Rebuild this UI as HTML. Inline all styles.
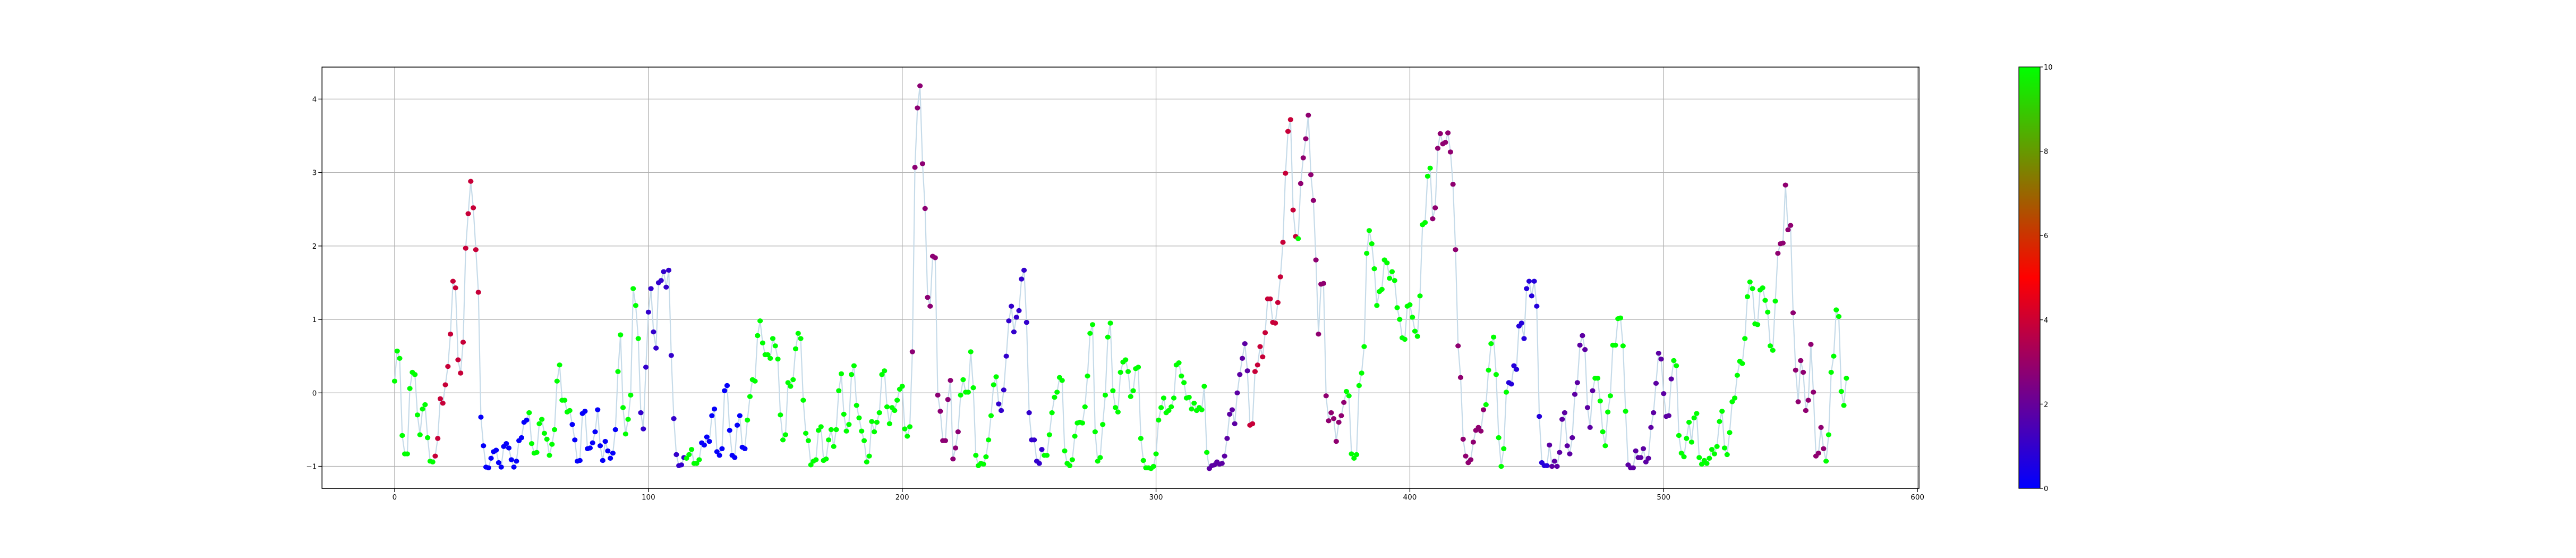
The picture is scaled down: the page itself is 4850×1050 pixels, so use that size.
<!DOCTYPE html>
<html><head><meta charset="utf-8">
<style>
html,body{margin:0;padding:0;background:#fff;}
svg{display:block;font-family:"DejaVu Sans","Liberation Sans",sans-serif;}
</style></head>
<body>
<svg id="chart" width="4850" height="1050" xmlns="http://www.w3.org/2000/svg">
<rect width="4850" height="1050" fill="#fff"/>
<g id="grid"></g>
<g id="series"></g>
<rect x="606.3" y="126.3" width="3006.7" height="792.7" fill="none" stroke="#000" stroke-width="1.6"/>
<g id="axes"></g>
<defs>
<linearGradient id="brg" x1="0" y1="1" x2="0" y2="0">
<stop offset="0" stop-color="#0000ff"/><stop offset="0.5" stop-color="#ff0000"/><stop offset="1" stop-color="#00ff00"/>
</linearGradient>
</defs>
<g id="cbar">
<rect x="3801" y="126" width="40" height="793" fill="url(#brg)" stroke="#000" stroke-width="1.2"/>
</g>
</svg>
<script>
const values = [0.16,0.57,0.47,-0.58,-0.83,-0.83,0.06,0.28,0.25,-0.30,-0.57,-0.22,-0.16,-0.61,-0.93,-0.94,-0.86,-0.62,-0.08,-0.14,
0.11,0.36,0.80,1.52,1.43,0.45,0.27,0.69,1.97,2.44,2.88,2.52,1.95,1.37,-0.33,-0.72,-1.01,-1.02,-0.89,-0.80,
-0.78,-0.95,-1.01,-0.73,-0.69,-0.75,-0.91,-1.01,-0.93,-0.65,-0.61,-0.40,-0.37,-0.27,-0.69,-0.82,-0.81,-0.42,-0.36,-0.55,
-0.63,-0.85,-0.70,-0.50,0.16,0.38,-0.10,-0.10,-0.26,-0.24,-0.43,-0.64,-0.93,-0.92,-0.28,-0.25,-0.76,-0.75,-0.68,-0.53,
-0.23,-0.72,-0.92,-0.66,-0.79,-0.89,-0.82,-0.50,0.29,0.79,-0.20,-0.56,-0.36,-0.03,1.42,1.19,0.74,-0.27,-0.49,0.35,
1.10,1.42,0.83,0.61,1.50,1.53,1.65,1.44,1.67,0.51,-0.35,-0.84,-0.99,-0.98,-0.88,-0.89,-0.84,-0.77,-0.96,-0.96,
-0.91,-0.68,-0.71,-0.60,-0.66,-0.31,-0.22,-0.80,-0.85,-0.76,0.03,0.10,-0.51,-0.85,-0.88,-0.44,-0.31,-0.74,-0.76,-0.37,
-0.05,0.18,0.16,0.78,0.98,0.68,0.52,0.52,0.47,0.74,0.64,0.46,-0.30,-0.64,-0.57,0.14,0.09,0.18,0.60,0.81,
0.74,-0.10,-0.55,-0.65,-0.98,-0.93,-0.91,-0.51,-0.46,-0.92,-0.90,-0.64,-0.50,-0.73,-0.50,0.03,0.26,-0.29,-0.52,-0.43,
0.25,0.37,-0.17,-0.34,-0.52,-0.65,-0.94,-0.86,-0.39,-0.53,-0.40,-0.27,0.25,0.30,-0.19,-0.42,-0.20,-0.24,-0.10,0.05,
0.09,-0.49,-0.59,-0.46,0.56,3.07,3.88,4.18,3.12,2.51,1.30,1.18,1.86,1.84,-0.03,-0.25,-0.65,-0.65,-0.09,0.17,
-0.90,-0.75,-0.53,-0.03,0.18,0.01,0.01,0.56,0.07,-0.85,-0.99,-0.96,-0.97,-0.87,-0.64,-0.31,0.11,0.22,-0.15,-0.24,
0.04,0.50,0.98,1.18,0.83,1.03,1.12,1.55,1.67,0.96,-0.27,-0.64,-0.64,-0.93,-0.96,-0.77,-0.85,-0.85,-0.57,-0.27,
-0.06,0.01,0.21,0.17,-0.79,-0.96,-0.99,-0.91,-0.59,-0.41,-0.40,-0.41,-0.19,0.23,0.81,0.93,-0.53,-0.93,-0.88,-0.43,
-0.03,0.76,0.95,0.03,-0.20,-0.26,0.28,0.42,0.45,0.29,-0.05,0.03,0.33,0.35,-0.62,-0.92,-1.02,-1.02,-1.03,-1.00,
-0.83,-0.37,-0.20,-0.07,-0.27,-0.24,-0.19,-0.07,0.38,0.41,0.23,0.14,-0.07,-0.06,-0.22,-0.14,-0.24,-0.20,-0.23,0.09,
-0.81,-1.03,-0.99,-0.98,-0.94,-0.97,-0.96,-0.86,-0.62,-0.29,-0.23,-0.42,0.00,0.25,0.47,0.67,0.30,-0.44,-0.42,0.29,
0.38,0.63,0.49,0.82,1.28,1.28,0.96,0.95,1.23,1.58,2.05,2.99,3.56,3.72,2.49,2.13,2.10,2.85,3.20,3.46,
3.78,2.97,2.62,1.81,0.80,1.48,1.49,-0.04,-0.38,-0.27,-0.35,-0.66,-0.40,-0.31,-0.13,0.02,-0.04,-0.83,-0.89,-0.84,
0.10,0.27,0.63,1.90,2.21,2.03,1.69,1.19,1.38,1.41,1.81,1.77,1.56,1.65,1.53,1.16,1.00,0.75,0.73,1.18,
1.20,1.03,0.84,0.77,1.32,2.29,2.32,2.95,3.06,2.37,2.52,3.33,3.53,3.39,3.41,3.54,3.28,2.84,1.95,0.64,
0.21,-0.63,-0.86,-0.95,-0.91,-0.67,-0.51,-0.47,-0.52,-0.23,-0.16,0.31,0.67,0.76,0.25,-0.61,-1.00,-0.76,0.01,0.14,
0.12,0.37,0.32,0.91,0.95,0.74,1.42,1.52,1.32,1.52,1.18,-0.32,-0.95,-0.99,-0.99,-0.71,-1.00,-0.93,-1.00,-0.81,
-0.36,-0.27,-0.72,-0.83,-0.61,-0.02,0.14,0.65,0.78,0.59,-0.20,-0.47,0.03,0.20,0.20,-0.11,-0.53,-0.72,-0.26,-0.04,
0.65,0.65,1.01,1.02,0.64,-0.25,-0.98,-1.02,-1.02,-0.79,-0.88,-0.88,-0.76,-0.94,-0.89,-0.47,-0.27,0.13,0.54,0.46,
-0.01,-0.32,-0.31,0.19,0.44,0.37,-0.58,-0.82,-0.87,-0.62,-0.40,-0.67,-0.34,-0.28,-0.88,-0.97,-0.92,-0.96,-0.89,-0.77,
-0.83,-0.73,-0.39,-0.25,-0.75,-0.84,-0.54,-0.12,-0.07,0.24,0.43,0.40,0.74,1.31,1.51,1.42,0.94,0.93,1.40,1.43,
1.26,1.10,0.64,0.58,1.25,1.90,2.03,2.04,2.83,2.22,2.28,1.09,0.31,-0.12,0.44,0.28,-0.24,-0.10,0.66,0.01,
-0.86,-0.82,-0.47,-0.76,-0.93,-0.57,0.28,0.50,1.13,1.04,0.02,-0.17,0.20];
// colour value per run: [start index, end index, colour value 0..10]
const segStart = [0,16,34,53,70,88,97,115,121,139,204,223,238,256,321,337,356,357,375,409,430,439,455,473,486,504,545,564];
const segEnd   = [15,33,52,69,87,96,114,120,138,203,222,237,255,320,336,355,356,374,408,429,438,454,472,485,503,544,563,572];
const segColor = [10,3.9,0.1,10,0.1,10,1.0,10,0.1,10,2.75,10,1.0,10,1.8,3.9,10,2.8,10,2.8,10,0.7,1.8,10,1.8,10,2.8,10];
const xTicks = [0,100,200,300,400,500,600];
const yTicks = [-1,0,1,2,3,4];
const cTicks = [0,2,4,6,8,10];

const NS="http://www.w3.org/2000/svg";
const X0=606.3,X1=3613,Y0=126.3,Y1=919;
const xmin=-28.6,xmax=600.6,ymin=-1.30,ymax=4.435;
function xs(v){return X0+(v-xmin)/(xmax-xmin)*(X1-X0);}
function ys(v){return Y1-(v-ymin)/(ymax-ymin)*(Y1-Y0);}
function cs(v){return Y1-v/10*(Y1-126);}
function brg(c){let t=c/10,r,g,b;
 if(t<=0.5){r=2*t;g=0;b=1-2*t;}else{r=2-2*t;g=2*t-1;b=0;}
 return `rgb(${Math.round(r*255)},${Math.round(g*255)},${Math.round(b*255)})`;}
function mk(tag,attrs,parent){const e=document.createElementNS(NS,tag);for(const k in attrs)e.setAttribute(k,attrs[k]);parent.appendChild(e);return e;}
const grid=document.getElementById('grid'),axes=document.getElementById('axes'),series=document.getElementById('series'),cbar=document.getElementById('cbar');
xTicks.forEach(t=>{
 const x=xs(t);
 const gl=mk('line',{x1:x,x2:x,y1:Y0,y2:Y1,stroke:'#b0b0b0','stroke-width':1.3},grid);
 
 
 const tk=mk('line',{x1:x,x2:x,y1:Y1,y2:Y1+7,stroke:'#000','stroke-width':1.3},axes);
 
 
 const tx=mk('text',{x:x,y:Y1+21,'text-anchor':'middle','font-size':'13.5px',fill:'#000'},axes);
 tx.textContent=t;
 
 
});
yTicks.forEach(t=>{
 const y=ys(t);
 const gl=mk('line',{x1:X0,x2:X1,y1:y,y2:y,stroke:'#b0b0b0','stroke-width':1.3},grid);
 
 
 const tk=mk('line',{x1:X0-7,x2:X0,y1:y,y2:y,stroke:'#000','stroke-width':1.3},axes);
 
 
 const tx=mk('text',{x:X0-10,y:y+5,'text-anchor':'end','font-size':'13.5px',fill:'#000'},axes);
 tx.textContent=(t<0?'\u2212'+Math.abs(t):t);
 
 
});
const pts=values.map((v,i)=>xs(i).toFixed(1)+','+ys(v).toFixed(1)).join(' ');
const line=mk('polyline',{points:pts,fill:'none',stroke:'#c6dbe9','stroke-width':2.2,'stroke-linejoin':'round'},series);


function colorOf(i){for(let s=0;s<segStart.length;s++){if(i>=segStart[s]&&i<=segEnd[s])return segColor[s];}return 10;}
values.forEach((v,i)=>{
 const c=mk('ellipse',{cx:xs(i),cy:ys(v),rx:5.1,ry:4.7,fill:brg(colorOf(i))},series);
 
 
});
cTicks.forEach(t=>{
 const y=cs(t);
 const tk=mk('line',{x1:3841,x2:3846,y1:y,y2:y,stroke:'#000','stroke-width':1.2},cbar);
 
 
 const tx=mk('text',{x:3848,y:y+5,'font-size':'13px',fill:'#000'},cbar);
 tx.textContent=t;
 
 
});
</script>
</body></html>
